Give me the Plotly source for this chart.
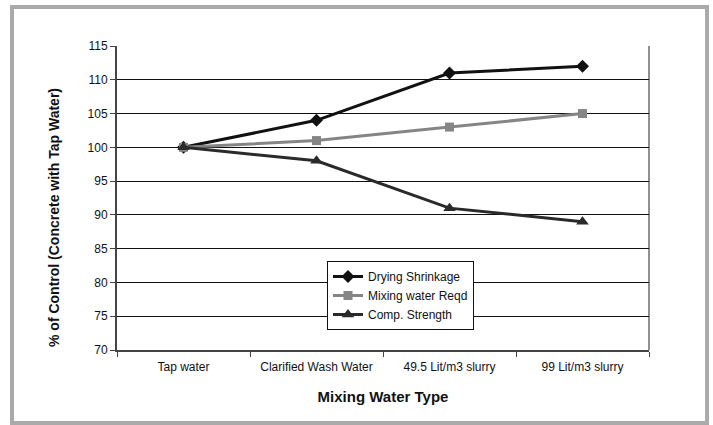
import plotly.graph_objects as go

categories = ["Tap water", "Clarified Wash Water", "49.5 Lit/m3 slurry", "99 Lit/m3 slurry"]
drying_shrinkage = [100, 104, 111, 112]
mixing_water = [100, 101, 103, 105]
comp_strength = [100, 98, 91, 89]
y_ticks = [70, 75, 80, 85, 90, 95, 100, 105, 110, 115]

W, H = 713, 425
L, R, T, B = 117, 64, 46, 75
pw, ph = W - L - R, H - T - B

def px(x):
    return (x - L) / pw

def py(y):
    return (H - B - y) / ph

FONT = "Liberation Sans, Arial, sans-serif"

fig = go.Figure()
fig.add_trace(go.Scatter(x=categories, y=drying_shrinkage, name="Drying Shrinkage",
                         mode="lines+markers", line=dict(color="#111111", width=3),
                         marker=dict(symbol="diamond", size=10, color="#111111")))
fig.add_trace(go.Scatter(x=categories, y=mixing_water, name="Mixing water Reqd",
                         mode="lines+markers", line=dict(color="#858585", width=3),
                         marker=dict(symbol="square", size=9, color="#858585")))
fig.add_trace(go.Scatter(x=categories, y=comp_strength, name="Comp. Strength",
                         mode="lines+markers", line=dict(color="#2a2a2a", width=3),
                         marker=dict(symbol="triangle-up", size=11, color="#2a2a2a")))

fig.update_layout(
    width=W, height=H,
    margin=dict(l=L, r=R, t=T, b=B),
    paper_bgcolor="white", plot_bgcolor="white",
    font=dict(family=FONT, size=12, color="#111111"),
    showlegend=True,
    legend=dict(x=px(327), y=py(261), xanchor="left", yanchor="top",
                bordercolor="#111111", borderwidth=1, bgcolor="white",
                font=dict(size=12), tracegroupgap=0, itemwidth=30),
    xaxis=dict(type="category", range=[-0.5, 3.5], showgrid=False,
               showline=True, linecolor="#444444", linewidth=2,
               ticks="outside", tickson="boundaries", ticklen=5, tickcolor="#444444",
               tickfont=dict(size=12), ticklabelstandoff=5,
               title=dict(text="<b>Mixing Water Type</b>", font=dict(size=15, color="#111111"), standoff=18)),
    yaxis=dict(range=[70, 115], tickvals=y_ticks, showgrid=True, gridcolor="#111111", gridwidth=1,
               zeroline=False, showline=True, linecolor="#444444", linewidth=2,
               ticks="outside", ticklen=5, tickcolor="#444444", tickfont=dict(size=12)),
    annotations=[
        dict(text="<b>% of Control (Concrete with Tap Water)</b>", textangle=-90,
             xref="paper", yref="paper", x=px(54), y=py(218), xanchor="center", yanchor="middle",
             showarrow=False, font=dict(size=14, color="#111111")),
    ],
    shapes=[
        dict(type="line", xref="paper", yref="paper", x0=1, x1=1, y0=0, y1=1,
             line=dict(color="#222222", width=1)),
        dict(type="rect", xref="paper", yref="paper", x0=px(12), x1=px(707), y0=py(423), y1=py(7),
             line=dict(color="#aaaaaa", width=4)),
    ],
)

fig.write_html("out.html")
